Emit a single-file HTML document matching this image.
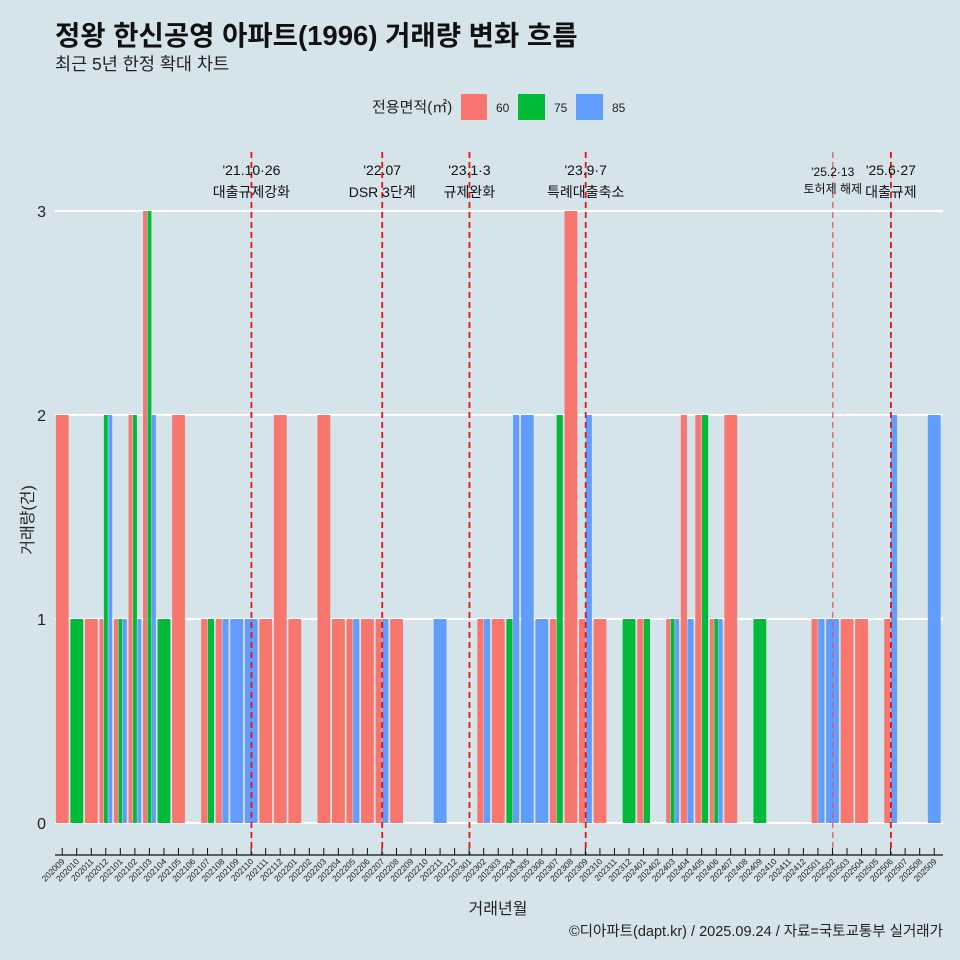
<!DOCTYPE html>
<html><head><meta charset="utf-8"><style>
html,body{margin:0;padding:0;background:#d5e3ea;}
svg{display:block;font-family:"Liberation Sans","Noto Sans CJK KR",sans-serif;}
</style></head><body>
<svg width="960" height="960" viewBox="0 0 960 960" id="chart">
<rect x="0" y="0" width="960" height="960" fill="#d5e3ea"/>
<text x="55" y="45" font-size="27.5" font-weight="bold" fill="#111">정왕 한신공영 아파트(1996) 거래량 변화 흐름</text>
<text x="55" y="70" font-size="17.5" fill="#222">최근 5년 한정 확대 차트</text>
<g>
<text x="372" y="112" font-size="15" fill="#222">전용면적(㎡)</text>
<rect x="461" y="94" width="26" height="26" fill="#f8766d"/>
<text x="496" y="112" font-size="12" fill="#222">60</text>
<rect x="518" y="94" width="27" height="26" fill="#00ba38"/>
<text x="554" y="112" font-size="12" fill="#222">75</text>
<rect x="576" y="94" width="27" height="26" fill="#619cff"/>
<text x="612" y="112" font-size="12" fill="#222">85</text>
</g>
<g id="grid"></g><g id="bars"></g><g id="events"></g><g id="axes"></g>
<text transform="translate(33,520) rotate(-90)" text-anchor="middle" font-size="16" fill="#222">거래량(건)</text>
<text x="498" y="914" text-anchor="middle" font-size="16" fill="#222">거래년월</text>
<text x="943" y="936" text-anchor="end" font-size="14.5" fill="#222">©디아파트(dapt.kr) / 2025.09.24 / 자료=국토교통부 실거래가</text>
</svg>
<script>
const months = ["202009","202010","202011","202012","202101","202102","202103","202104","202105","202106","202107","202108","202109","202110","202111","202112","202201","202202","202203","202204","202205","202206","202207","202208","202209","202210","202211","202212","202301","202302","202303","202304","202305","202306","202307","202308","202309","202310","202311","202312","202401","202402","202403","202404","202405","202406","202407","202408","202409","202410","202411","202412","202501","202502","202503","202504","202505","202506","202507","202508","202509"];
const area60 = [2,0,1,1,1,2,3,0,2,0,1,1,0,0,1,2,1,0,2,1,1,1,1,1,0,0,0,0,0,1,1,0,0,0,1,3,1,1,0,0,1,0,1,2,2,1,2,0,0,0,0,0,1,0,1,1,0,1,0,0,0];
const area75 = [0,1,0,2,1,2,3,1,0,0,1,0,0,0,0,0,0,0,0,0,0,0,0,0,0,0,0,0,0,0,0,1,0,0,2,0,0,0,0,1,1,0,1,0,2,1,0,0,1,0,0,0,0,0,0,0,0,0,0,0,0];
const area85 = [0,0,0,2,1,1,2,0,0,0,0,1,1,1,0,0,0,0,0,0,1,0,1,0,0,0,1,0,0,1,0,2,2,1,0,0,2,0,0,0,0,0,1,1,0,1,0,0,0,0,0,0,1,1,0,0,0,2,0,0,2];
const yTicks = [0,1,2,3];
const eventMonths = ["202110","202207","202301","202309","202502","202506"];
const eventLine1 = ["'21.10·26","'22.07","'23.1·3","'23.9·7","'25.2·13","'25.6·27"];
const eventLine2 = ["대출규제강화","DSR 3단계","규제완화","특례대출축소","토허제 해제","대출규제"];
const eventSmall = [false,false,false,false,true,false];

const NS="http://www.w3.org/2000/svg";
const X0=62.5, STEP=(934.5-62.5)/60, Y0=823, YU=204, BW=13.3;
const xScale=i=>X0+STEP*i;
const yScale=v=>Y0-YU*v;
function mk(tag,attrs,parent){const e=document.createElementNS(NS,tag);for(const k in attrs)e.setAttribute(k,attrs[k]);parent.appendChild(e);return e;}
const grid=document.getElementById('grid'),bars=document.getElementById('bars'),ev=document.getElementById('events'),ax=document.getElementById('axes');
yTicks.forEach(t=>{
  const l=mk('line',{x1:55,x2:943,y1:yScale(t),y2:yScale(t),stroke:'#fff','stroke-width':2.2},grid);
  
  
  const tx=mk('text',{x:46,y:yScale(t)+6,'text-anchor':'end','font-size':16,fill:'#222'},ax);
  tx.textContent=t;
  
  
});
const series=[[area60,'#f8766d','60'],[area75,'#00ba38','75'],[area85,'#619cff','85']];
months.forEach((m,i)=>{
  const present=series.filter(s=>s[0][i]>0);
  const n=present.length; if(!n) return;
  const w=BW/n, left=xScale(i)-BW/2;
  present.forEach((s,k)=>{
    const v=s[0][i];
    const r=mk('rect',{x:left+k*w,y:yScale(v),width:Math.max(w-0.5,0.5),height:yScale(0)-yScale(v),fill:s[1]},bars);
    
    
  });
});
eventMonths.forEach((m,j)=>{
  const x=xScale(months.indexOf(m));
  const l=mk('line',{x1:x,x2:x,y1:152,y2:855,stroke:eventSmall[j]?'#e8505a':'#ee1111','stroke-width':eventSmall[j]?1.2:1.8,'stroke-dasharray':'6,4'},ev);
  
  
  const fs=eventSmall[j]?12:14;
  const t1=mk('text',{x:x,y:eventSmall[j]?176:175,'text-anchor':'middle','font-size':fs,fill:'#111'},ev);
  t1.textContent=eventLine1[j];
  
  
  const t2=mk('text',{x:x,y:eventSmall[j]?193:197,'text-anchor':'middle','font-size':fs,fill:'#111'},ev);
  t2.textContent=eventLine2[j];
  
  
});
const axl=mk('line',{x1:55,x2:943,y1:855,y2:855,stroke:'#111','stroke-width':1.2},ax);


months.forEach((m,i)=>{
  const x=xScale(i)-0.3;
  const tk=mk('line',{x1:x,x2:x,y1:848,y2:855,stroke:'#111','stroke-width':1},ax);
  
  
  const t=mk('text',{transform:`translate(${x+3},862) rotate(-45)`,'text-anchor':'end','font-size':8.5,fill:'#222'},ax);
  t.textContent=m;
  
  
});
</script>
</body></html>
